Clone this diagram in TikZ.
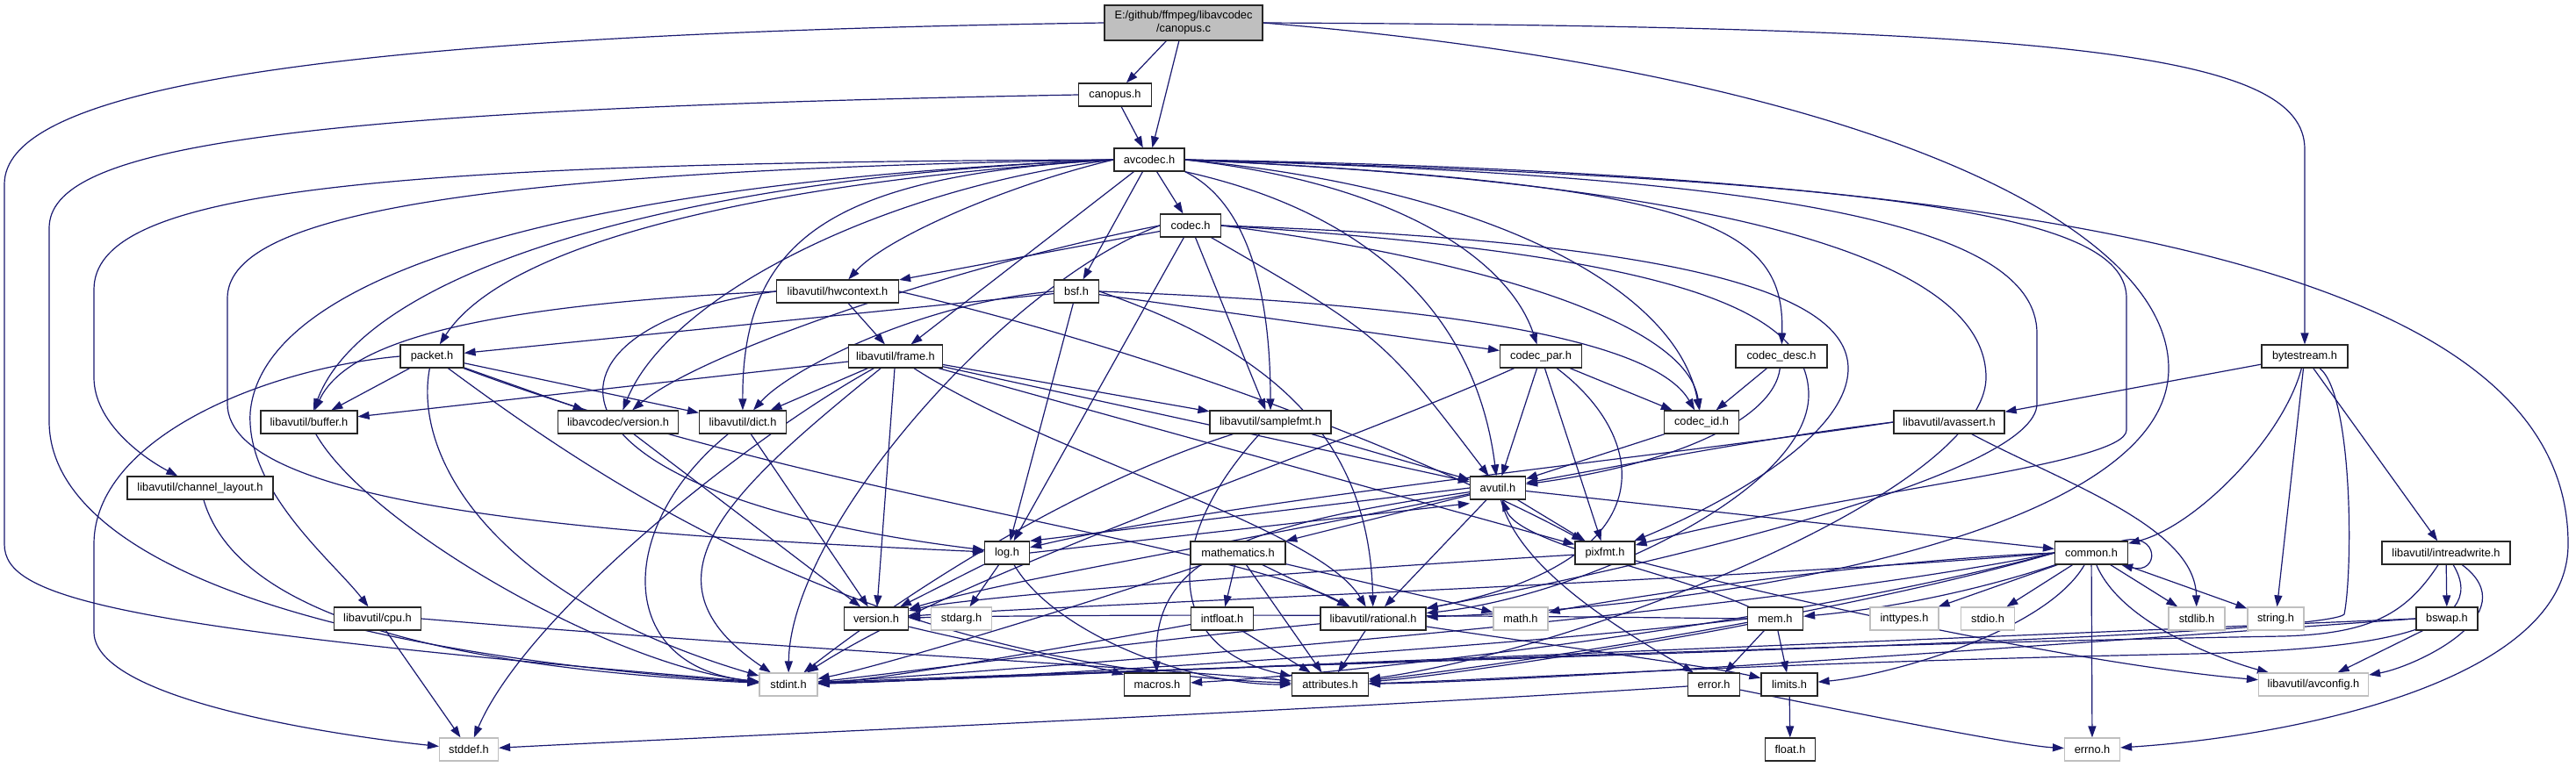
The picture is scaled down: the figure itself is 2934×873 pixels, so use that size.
\documentclass[tikz,border=0pt]{standalone}
\usepackage{fontspec}
\setmainfont{Liberation Sans}
\usetikzlibrary{arrows.meta}
\definecolor{eblue}{HTML}{191970}
\definecolor{gbd}{HTML}{BFBFBF}
\pgfdeclarelayer{back}
\pgfdeclarelayer{edges}
\pgfsetlayers{back,edges,main}
\begin{document}
\begin{tikzpicture}[x=1pt,y=-1pt,
 box/.style={draw=black!85,line width=1.2pt,fill=white,minimum height=26pt,inner sep=0pt,font=\fontsize{12.8}{15}\selectfont},
 gbox/.style={box,draw=gbd},
 e/.style={draw=eblue,line width=1.2pt,-{Triangle[length=13pt,width=9pt]}}]
\begin{pgfonlayer}{back}
\fill[white] (0,0) rectangle (2934,873);
\end{pgfonlayer}
\useasboundingbox (0,0) rectangle (2934,873);
% nodes
\node[box,fill=gbd,minimum width=180pt,minimum height=40pt,align=center] (root) at (1348,26) {E:/github/ffmpeg/libavcodec\\/canopus.c};
\node[box,minimum width=83pt] (canh) at (1270,108) {canopus.h};
\node[box,minimum width=80pt] (avc) at (1309,182) {avcodec.h};
\node[box,minimum width=69pt] (codec) at (1356,257) {codec.h};
\node[box,minimum width=51pt] (bsf) at (1226,332) {bsf.h};
\node[box,minimum width=139pt] (hw) at (954,332) {libavutil/hwcontext.h};
\node[box,minimum width=107pt] (frame) at (1020,406) {libavutil/frame.h};
\node[box,minimum width=93pt] (cpar) at (1755,406) {codec\_par.h};
\node[box,minimum width=104pt] (cdesc) at (2029,406) {codec\_desc.h};
\node[box,minimum width=98pt] (bs) at (2625,406) {bytestream.h};
\node[box,minimum width=72pt] (packet) at (492,406) {packet.h};
\node[box,minimum width=110pt] (buffer) at (352,481) {libavutil/buffer.h};
\node[box,minimum width=137pt] (lavcver) at (704,481) {libavcodec/version.h};
\node[box,minimum width=99pt] (dict) at (846,481) {libavutil/dict.h};
\node[box,minimum width=138pt] (sfmt) at (1447,481) {libavutil/samplefmt.h};
\node[box,minimum width=85pt] (cid) at (1938,481) {codec\_id.h};
\node[box,minimum width=126pt] (avassert) at (2220,481) {libavutil/avassert.h};
\node[box,minimum width=166pt] (chl) at (228,556) {libavutil/channel\_layout.h};
\node[box,minimum width=63pt] (avutil) at (1706,556) {avutil.h};
\node[box,minimum width=51pt] (log) at (1147,630) {log.h};
\node[box,minimum width=108pt] (math) at (1410,630) {mathematics.h};
\node[box,minimum width=68pt] (pixfmt) at (1828,630) {pixfmt.h};
\node[box,minimum width=83pt] (common) at (2382,630) {common.h};
\node[box,minimum width=146pt] (irw) at (2786,630) {libavutil/intreadwrite.h};
\node[box,minimum width=99pt] (cpu) at (430,705) {libavutil/cpu.h};
\node[box,minimum width=73pt] (ver) at (998,705) {version.h};
\node[gbox,minimum width=69pt] (stdarg) at (1095,705) {stdarg.h};
\node[box,minimum width=71pt] (intfloat) at (1392,705) {intfloat.h};
\node[box,minimum width=120pt] (rational) at (1564,705) {libavutil/rational.h};
\node[gbox,minimum width=62pt] (mathh) at (1732,705) {math.h};
\node[box,minimum width=63pt] (mem) at (2022,705) {mem.h};
\node[gbox,minimum width=78pt] (inttypes) at (2169,705) {inttypes.h};
\node[gbox,minimum width=61pt] (stdio) at (2264,705) {stdio.h};
\node[gbox,minimum width=64pt] (stdlib) at (2502,705) {stdlib.h};
\node[gbox,minimum width=64pt] (string) at (2592,705) {string.h};
\node[box,minimum width=70pt] (bswap) at (2787,705) {bswap.h};
\node[gbox,minimum width=66pt] (stdint) at (898,780) {stdint.h};
\node[box,minimum width=75pt] (macros) at (1318,780) {macros.h};
\node[box,minimum width=87pt] (attr) at (1515,780) {attributes.h};
\node[box,minimum width=59pt] (error) at (1952,780) {error.h};
\node[box,minimum width=64pt] (limits) at (2038,780) {limits.h};
\node[gbox,minimum width=125pt] (avconfig) at (2635,780) {libavutil/avconfig.h};
\node[gbox,minimum width=67pt] (stddef) at (534,854) {stddef.h};
\node[box,minimum width=57pt] (float) at (2039,854) {float.h};
\node[gbox,minimum width=63pt] (errno) at (2383,854) {errno.h};
\begin{pgfonlayer}{edges}
% edges: root
\draw[e] (root.west) .. controls (300,40) and (5,110) .. (5,210) -- (5,620) .. controls (5,680) and (120,715) .. (stdint);
\draw[e] (root) -- (canh);
\draw[e] (root) -- (avc);
\draw[e] (root.east) .. controls (2350,30) and (2625,60) .. (2625,170) -- (bs);
\draw[e] (root.east) .. controls (2100,80) and (2470,250) .. (2470,420) .. controls (2470,600) and (2000,690) .. (rational);
% canopus.h
\draw[e] (canh) -- (avc);
\draw[e] (canh.west) .. controls (300,125) and (56,170) .. (56,260) -- (56,480) .. controls (56,620) and (300,740) .. (stdint);
% avcodec.h
\draw[e] (avc) -- (codec);
\draw[e] (avc) -- (bsf);
\draw[e] (avc) -- (frame);
\draw[e] (avc.west) .. controls (1150,210) and (1010,270) .. (hw);
\draw[e] (avc.west) .. controls (900,205) and (580,270) .. (packet);
\draw[e] (avc.west) .. controls (800,200) and (420,300) .. (buffer);
\draw[e] (avc.west) .. controls (700,205) and (300,300) .. (285,470) .. controls (280,560) and (380,640) .. (cpu);
\draw[e] (avc.west) .. controls (400,185) and (107,220) .. (107,330) -- (107,430) .. controls (107,480) and (160,520) .. (chl);
\draw[e] (avc.west) .. controls (500,195) and (259,250) .. (259,340) -- (259,460) .. controls (259,580) and (700,610) .. (log);
\draw[e] (avc.west) .. controls (950,200) and (845,270) .. (dict);
\draw[e] (avc.west) .. controls (1000,215) and (760,340) .. (lavcver);
\draw[e] (avc.south east) .. controls (1420,230) and (1447,330) .. (sfmt);
\draw[e] (avc.east) .. controls (1600,210) and (1720,300) .. (cpar);
\draw[e] (avc.east) .. controls (1950,210) and (2033,260) .. (cdesc);
\draw[e] (avc.east) .. controls (1700,215) and (1910,330) .. (cid);
\draw[e] (avc.south east) .. controls (1550,240) and (1680,350) .. (avutil);
\draw[e] (avc.east) .. controls (2200,205) and (2422,250) .. (2422,340) -- (2422,490) .. controls (2422,530) and (2100,560) .. (pixfmt);
\draw[e] (avc.east) .. controls (2000,200) and (2320,250) .. (2320,380) -- (2320,460) .. controls (2320,540) and (1900,640) .. (rational);
\draw[e] (avc.east) .. controls (2100,215) and (2262,330) .. (2262,430) .. controls (2262,560) and (1800,740) .. (attr);
\draw[e] (avc.east) .. controls (2500,200) and (2925,350) .. (2925,620) .. controls (2925,780) and (2600,840) .. (errno);
% codec.h
\draw[e] (codec) -- (hw);
\draw[e] (codec) -- (log);
\draw[e] (codec) -- (sfmt);
\draw[e] (codec) .. controls (1574,383) .. (avutil);
\draw[e] (codec.west) .. controls (1150,320) and (900,600) .. (stdint);
\draw[e] (codec.east) .. controls (1650,290) and (1920,360) .. (cid);
\draw[e] (codec.west) .. controls (1100,300) and (800,400) .. (lavcver);
\draw[e] (codec.east) .. controls (1900,275) and (2105,330) .. (2105,420) .. controls (2105,500) and (1950,580) .. (pixfmt);
\draw[e] (codec.east) .. controls (1900,290) and (2060,350) .. (2060,450) .. controls (2060,560) and (1800,680) .. (rational);
% bsf.h
\draw[e] (bsf) -- (packet);
\draw[e] (bsf) -- (cpar);
\draw[e] (bsf.west) .. controls (1050,345) and (900,420) .. (dict);
\draw[e] (bsf) -- (log);
\draw[e] (bsf.east) .. controls (1450,400) and (1560,500) .. (rational);
\draw[e] (bsf.east) .. controls (1600,345) and (1880,380) .. (cid);
% hwcontext.h
\draw[e] (hw.west) .. controls (500,350) and (390,400) .. (buffer);
\draw[e] (hw) -- (frame);
\draw[e] (hw.west) .. controls (600,370) and (580,560) .. (log);
\draw[e] (hw.east) .. controls (1400,420) and (1700,560) .. (pixfmt);
% frame.h
\draw[e] (frame) .. controls (850,500) and (600,700) .. (stddef);
\draw[e] (frame) .. controls (830,560) and (720,660) .. (stdint);
\draw[e] (frame) -- (avutil);
\draw[e] (frame) -- (buffer);
\draw[e] (frame) -- (dict);
\draw[e] (frame) .. controls (1191,517) and (1500,600) .. (rational);
\draw[e] (frame) -- (sfmt);
\draw[e] (frame) -- (pixfmt);
\draw[e] (frame) -- (ver);
% codec_par.h
\draw[e] (cpar) -- (cid);
\draw[e] (cpar) -- (avutil);
\draw[e] (cpar) -- (pixfmt);
\draw[e] (cpar) .. controls (1880,500) and (1900,640) .. (rational);
\draw[e] (cpar) .. controls (1500,520) and (1100,650) .. (stdint);
% codec_desc.h, codec_id.h
\draw[e] (cdesc) -- (cid);
\draw[e] (cdesc) .. controls (2020,480) and (1900,530) .. (avutil);
\draw[e] (cid) -- (avutil);
% packet.h
\draw[e] (packet.west) .. controls (300,420) and (107,500) .. (107,620) -- (107,720) .. controls (107,800) and (400,840) .. (stddef);
\draw[e] (packet) .. controls (470,520) and (560,680) .. (stdint);
\draw[e] (packet) .. controls (700,560) and (1000,760) .. (attr);
\draw[e] (packet) -- (buffer);
\draw[e] (packet) -- (dict);
\draw[e] (packet) .. controls (900,560) and (1400,620) .. (rational);
\draw[e] (packet) -- (lavcver);
% small ones
\draw[e] (buffer) .. controls (420,600) and (700,760) .. (stdint);
\draw[e] (lavcver) -- (ver);
\draw[e] (dict) .. controls (700,600) and (700,760) .. (stdint);
\draw[e] (dict) -- (ver);
\draw[e] (chl) .. controls (270,700) and (500,760) .. (stdint);
\draw[e] (cpu) -- (stddef);
\draw[e] (cpu.east) .. controls (900,740) and (1300,760) .. (attr);
% samplefmt.h
\draw[e] (sfmt) -- (avutil);
\draw[e] (sfmt) .. controls (1200,560) and (1000,700) .. (stdint);
\draw[e] (sfmt) .. controls (1320,620) and (1330,740) .. (attr);
% avassert.h
\draw[e] (avassert.west) .. controls (2000,500) and (1850,530) .. (avutil);
\draw[e] (avassert.west) .. controls (1900,520) and (1400,570) .. (log);
\draw[e] (avassert) .. controls (2350,550) and (2500,600) .. (stdlib);
% avutil.h
\draw[e] (avutil) -- (common);
\draw[e] (avutil) .. controls (1730,650) and (1850,720) .. (error);
\draw[e] (avutil) -- (rational);
\draw[e] (avutil) .. controls (1400,620) and (1150,660) .. (ver);
\draw[e] (avutil) .. controls (1400,600) and (1313,640) .. (macros);
\draw[e] (avutil) -- (math);
\draw[e] (avutil.west) -- (log.north east);
\draw[e] (avutil) -- (pixfmt);
% log.h
\draw[e] (log) -- (stdarg);
\draw[e] (log.east) -- ([yshift=-4pt]avutil.south west);
\draw[e] (log) -- (ver);
\draw[e] (log) .. controls (1200,720) and (1350,780) .. (attr);
% mathematics.h
\draw[e] (math) .. controls (1200,700) and (1000,760) .. (stdint);
\draw[e] (math) -- (mathh);
\draw[e] (math) -- (attr);
\draw[e] (math) -- (rational);
\draw[e] (math) -- (intfloat);
% pixfmt.h
\draw[e] (pixfmt) .. controls (1500,650) and (1100,680) .. (ver);
\draw[e] (pixfmt) .. controls (2100,700) and (2400,760) .. (avconfig);
% common.h
\draw[e] ([xshift=-8pt]common.north east) .. controls (2460,605) and (2460,655) .. ([xshift=-8pt]common.south east);
\draw[e] (common) -- (inttypes);
\draw[e] (common) -- (stdio);
\draw[e] (common) -- (stdlib);
\draw[e] (common) -- (string);
\draw[e] (common) -- (errno);
\draw[e] (common) .. controls (2420,720) and (2560,760) .. (avconfig);
\draw[e] (common) .. controls (2330,720) and (2150,770) .. (limits);
\draw[e] (common) .. controls (2200,690) and (2080,700) .. (mem);
\draw[e] (common.west) .. controls (2100,640) and (1800,690) .. (mathh);
\draw[e] (common.west) .. controls (2000,700) and (1200,760) .. (stdint);
\draw[e] (common.west) .. controls (2100,700) and (1700,760) .. (attr);
\draw[e] (common.west) .. controls (2000,720) and (1500,770) .. (macros);
\draw[e] (common.west) .. controls (2000,660) and (1200,690) .. (ver);
% mem.h
\draw[e] (mem) .. controls (1900,650) and (1730,620) .. (avutil);
\draw[e] (mem) -- (error);
\draw[e] (mem) -- (limits);
\draw[e] (mem) .. controls (1900,730) and (1650,770) .. (attr);
\draw[e] (mem.west) .. controls (1700,740) and (1100,775) .. (stdint);
\draw[e] (mem.west) .. controls (1600,700) and (1200,700) .. (ver);
% rational.h
\draw[e] (rational) .. controls (1300,730) and (1000,770) .. (stdint);
\draw[e] (rational) .. controls (1800,740) and (1950,760) .. (limits);
\draw[e] (rational) -- (attr);
% intfloat.h, version.h
\draw[e] (intfloat) .. controls (1200,740) and (1000,775) .. (stdint);
\draw[e] (intfloat) -- (attr);
\draw[e] (ver) .. controls (1100,730) and (1250,760) .. (macros);
% error.h, limits.h
\draw[e] (error) .. controls (2100,810) and (2300,850) .. (errno);
\draw[e] (error) .. controls (1500,810) and (800,840) .. (stddef);
\draw[e] (limits) -- (float);
% bytestream.h
\draw[e] (bs) -- (avassert);
\draw[e] (bs) .. controls (2600,500) and (2500,600) .. (common);
\draw[e] (bs) -- (string);
\draw[e] (bs) -- (irw);
\draw[e] (bs) .. controls (2680,450) and (2680,650) .. (2670,700) .. controls (2640,730) and (1300,760) .. (stdint);
% intreadwrite.h, bswap.h
\draw[e] (irw) -- (bswap);
\draw[e] (irw) .. controls (2880,700) and (2750,760) .. (avconfig);
\draw[e] (irw) .. controls (2740,700) and (2700,722) .. (2600,725) .. controls (2000,735) and (1200,770) .. (stdint);
\draw[e] (irw) .. controls (2840,720) and (2700,740) .. (2500,745) .. controls (2000,755) and (1700,775) .. (attr);
\draw[e] (bswap) -- (avconfig);
\draw[e] (bswap.west) .. controls (2400,720) and (1200,770) .. (stdint);
\draw[e] (bswap.west) .. controls (2400,730) and (1800,775) .. (attr);
\end{pgfonlayer}
\end{tikzpicture}
\end{document}
